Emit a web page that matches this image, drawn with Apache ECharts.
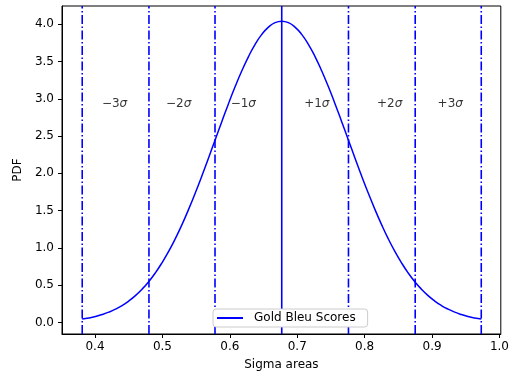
<!DOCTYPE html>
<html>
<head>
<meta charset="utf-8">
<script src="https://cdn.jsdelivr.net/npm/echarts@6/dist/echarts.min.js"></script>
<style>
  html, body { margin: 0; padding: 0; background: #fff; }
  #chart { width: 512px; height: 376px; }
</style>
</head>
<body>
<div id="chart"></div>
<script>
// curve points
const xs = [0.3809, 0.3908, 0.4006, 0.4105, 0.4204, 0.4303, 0.4401, 0.4500, 0.4599, 0.4697,
  0.4796, 0.4895, 0.4993, 0.5092, 0.5191, 0.5290, 0.5388, 0.5487, 0.5586, 0.5684,
  0.5783, 0.5882, 0.5980, 0.6079, 0.6178, 0.6277, 0.6375, 0.6474, 0.6573, 0.6671,
  0.6770,
  0.6869, 0.6967, 0.7066, 0.7165, 0.7264, 0.7362, 0.7461, 0.7560, 0.7658, 0.7757,
  0.7856, 0.7954, 0.8053, 0.8152, 0.8251, 0.8349, 0.8448, 0.8547, 0.8645, 0.8744,
  0.8843, 0.8941, 0.9040, 0.9139, 0.9238, 0.9336, 0.9435, 0.9534, 0.9632, 0.9731];
const pdf = [0.045, 0.060, 0.080, 0.106, 0.138, 0.178, 0.227, 0.287, 0.359, 0.446,
  0.547, 0.665, 0.800, 0.953, 1.124, 1.312, 1.517, 1.736, 1.967, 2.207,
  2.452, 2.696, 2.935, 3.164, 3.376, 3.567, 3.731, 3.864, 3.962, 4.022,
  4.042,
  4.022, 3.962, 3.864, 3.731, 3.567, 3.376, 3.164, 2.935, 2.696, 2.452,
  2.207, 1.967, 1.736, 1.517, 1.312, 1.124, 0.953, 0.800, 0.665, 0.547,
  0.446, 0.359, 0.287, 0.227, 0.178, 0.138, 0.106, 0.080, 0.060, 0.045];

// sigma boundaries (index 3 is the mean)
const sigmaLines = [0.381, 0.480, 0.578, 0.677, 0.776, 0.875, 0.973];
const sigmaNames = ['-3', '-2', '-1', '+1', '+2', '+3'];
const sigmaLabelX = [0.429, 0.524, 0.620, 0.729, 0.837, 0.927];
const sigmaLabelY = 2.93;

const xTicks = [0.4, 0.5, 0.6, 0.7, 0.8, 0.9, 1.0];
const yTicks = [0.0, 0.5, 1.0, 1.5, 2.0, 2.5, 3.0, 3.5, 4.0];

const xMin = 0.351, xMax = 1.002;
const yMin = -0.155, yMax = 4.245;

const font = 'DejaVu Sans';
const fs = 12;
const blue = '#0000ff';

const chart = echarts.init(document.getElementById('chart'), null, { renderer: 'canvas' });

// one full-height line per sigma boundary
const vlines = sigmaLines.map((v, i) => ({
  name: 'sigma' + i,
  type: 'line',
  data: [[v, yMin], [v, yMax]],
  symbol: 'none',
  silent: true,
  lineStyle: { color: blue, width: 1.6, type: i === 3 ? 'solid' : [9, 2.5, 1.5, 2.5] },
  z: 2
}));

const option = {
  animation: false,
  grid: {
    left: 62, right: 11, top: 6, bottom: 42,
    show: true, borderColor: '#000', borderWidth: 1, backgroundColor: 'transparent'
  },
  xAxis: {
    type: 'value',
    min: xMin, max: xMax,
    name: 'Sigma areas',
    nameLocation: 'middle',
    nameGap: 25,
    nameTextStyle: { fontFamily: font, fontSize: fs, color: '#000' },
    axisLine: { show: true, onZero: false, lineStyle: { color: '#000', width: 1 } },
    axisTick: { show: true, customValues: xTicks, length: 4, lineStyle: { color: '#000' } },
    axisLabel: {
      customValues: xTicks, fontFamily: font, fontSize: fs, color: '#000', margin: 7,
      formatter: v => v.toFixed(1)
    },
    splitLine: { show: false }
  },
  yAxis: {
    type: 'value',
    min: yMin, max: yMax,
    name: 'PDF',
    nameLocation: 'middle',
    nameGap: 33,
    nameTextStyle: { fontFamily: font, fontSize: fs, color: '#000' },
    axisLine: { show: true, onZero: false, lineStyle: { color: '#000', width: 1 } },
    axisTick: { show: true, customValues: yTicks, length: 4, lineStyle: { color: '#000' } },
    axisLabel: {
      customValues: yTicks, fontFamily: font, fontSize: fs, color: '#000', margin: 8,
      formatter: v => v.toFixed(1)
    },
    splitLine: { show: false }
  },
  legend: {
    data: ['Gold Bleu Scores'],
    left: 213, top: 309,
    itemWidth: 26, itemHeight: 2,
    padding: [3, 12, 3, 4],
    backgroundColor: '#fff',
    borderColor: '#ccc', borderWidth: 1, borderRadius: 3,
    icon: 'rect',
    textStyle: { fontFamily: font, fontSize: fs, color: '#000', padding: [0, 0, 0, 6] }
  },
  series: [
    {
      name: 'Gold Bleu Scores',
      type: 'line',
      data: xs.map((x, i) => [x, pdf[i]]),
      smooth: true,
      symbol: 'none',
      lineStyle: { color: blue, width: 1.5 },
      itemStyle: { color: blue },
      z: 3
    },
    ...vlines,
    {
      name: 'labels',
      type: 'scatter',
      symbolSize: 0,
      data: sigmaNames.map((n, i) => ({ value: [sigmaLabelX[i], sigmaLabelY], name: n })),
      label: {
        show: true, position: 'inside',
        formatter: p => '{n|' + p.name.replace('-', '\u2212') + '}{s|\u03c3}',
        rich: {
          n: { fontFamily: font, fontSize: fs, color: '#000' },
          s: { fontFamily: font, fontSize: fs, fontStyle: 'italic', color: '#000' }
        }
      }
    }
  ]
};

chart.setOption(option);
</script>
</body>
</html>
